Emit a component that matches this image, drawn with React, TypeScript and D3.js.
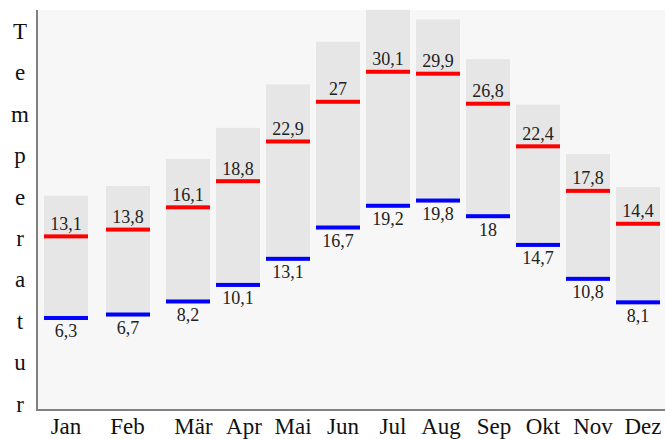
import React from "react";
import * as d3 from "d3";

const months = ["Jan", "Feb", "Mär", "Apr", "Mai", "Jun", "Jul", "Aug", "Sep", "Okt", "Nov", "Dez"];
const tMax = [13.1, 13.8, 16.1, 18.8, 22.9, 27, 30.1, 29.9, 26.8, 22.4, 17.8, 14.4];
const tMin = [6.3, 6.7, 8.2, 10.1, 13.1, 16.7, 19.2, 19.8, 18, 14.7, 10.8, 8.1];
const barTop = [17.3, 18.3, 21.1, 24.3, 28.8, 33.2, 36.5, 35.5, 31.4, 26.7, 21.6, 18.2];
const yTitle = "Temperatur";

const W = 665;
const H = 439;
const fmt = (v: number) => String(v).replace(".", ",");

export default function App() {
  const plotLeft = 37;
  const plotTop = 10;
  const plotBottom = 410;
  const barW = 44;

  const xBar = d3
    .scaleOrdinal<string, number>()
    .domain(months)
    .range([66, 128, 188, 238, 288, 338, 388, 438, 488, 538, 588, 638]);
  const xLabel = d3
    .scaleOrdinal<string, number>()
    .domain(months)
    .range([66, 127.5, 193.5, 244, 293, 343, 393, 441, 494, 543, 593, 643]);

  const yHigh = d3.scaleLinear().domain([0, 30]).range([363.2, 72.74]);
  const yLow = d3.scaleLinear().domain([0, 30]).range([372.8, 111.8]);

  const titleY = d3
    .scaleLinear()
    .domain([0, yTitle.length - 1])
    .range([39, 411.5]);

  const serif = "'Liberation Serif', 'Times New Roman', serif";

  return (
    <svg
      width={W}
      height={H}
      style={{ position: "absolute", left: 0, top: 0, background: "#fff" }}
      fontFamily={serif}
    >
      <rect x={plotLeft} y={plotTop} width={W - plotLeft} height={plotBottom - plotTop} fill="#f7f7f7" />
      {months.map((m, i) => {
        const cx = xBar(m);
        const top = yHigh(barTop[i]);
        const bottom = yLow(tMin[i]) + 2;
        return (
          <g key={m}>
            <rect x={cx - barW / 2} y={top} width={barW} height={bottom - top} fill="#e6e6e6" />
            <rect x={cx - barW / 2} y={yHigh(tMax[i]) - 2} width={barW} height={4} fill="#ff0000" />
            <rect x={cx - barW / 2} y={yLow(tMin[i]) - 2} width={barW} height={4} fill="#0000ff" />
            <text x={cx} y={yHigh(tMax[i]) - 6.5} textAnchor="middle" fontSize={18} fill="#222">
              {fmt(tMax[i])}
            </text>
            <text x={cx} y={yLow(tMin[i]) + 19.5} textAnchor="middle" fontSize={18} fill="#222">
              {fmt(tMin[i])}
            </text>
            <text x={xLabel(m)} y={433.5} textAnchor="middle" fontSize={23} fill="#111">
              {m}
            </text>
          </g>
        );
      })}
      <line x1={plotLeft} x2={plotLeft} y1={plotTop} y2={plotBottom + 1} stroke="#808080" strokeWidth={2} />
      <line x1={plotLeft - 1} x2={W} y1={plotBottom} y2={plotBottom} stroke="#808080" strokeWidth={2} />
      {yTitle.split("").map((ch, i) => (
        <text key={i} x={20} y={titleY(i)} textAnchor="middle" fontSize={23} fill="#111">
          {ch}
        </text>
      ))}
    </svg>
  );
}
